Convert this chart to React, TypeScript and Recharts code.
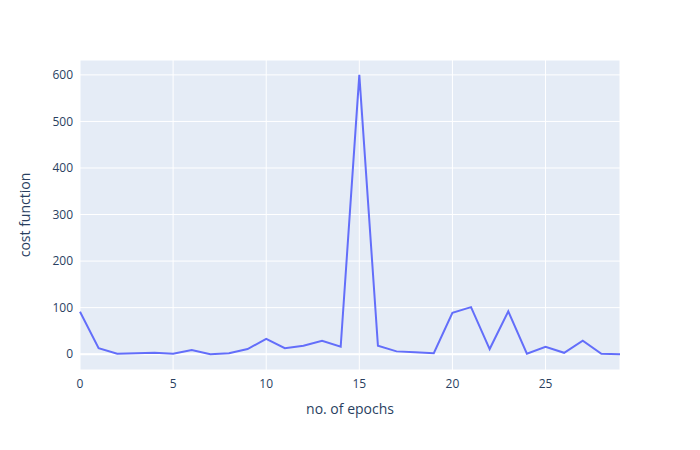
import React from 'react';
import { LineChart, Line, XAxis, YAxis, CartesianGrid, ReferenceLine, Label } from 'recharts';

// epoch index and cost value
const epochs = [0, 1, 2, 3, 4, 5, 6, 7, 8, 9, 10, 11, 12, 13, 14, 15, 16, 17, 18, 19, 20, 21, 22, 23, 24, 25, 26, 27, 28, 29];
const cost = [91, 13, 1, 2, 3, 1, 9, 0, 2, 11, 33, 13, 18, 29, 16, 600, 18, 6, 4, 2, 89, 101, 11, 92, 1, 16, 3, 29, 1, 0];
const xTicks = [0, 5, 10, 15, 20, 25];
const yTicks = [0, 100, 200, 300, 400, 500, 600];

const FONT = '"Open Sans", verdana, arial, sans-serif';
const INK = '#2a3f5f';

const data = epochs.map((e, i) => ({ epoch: e, cost: cost[i] }));

// rotated y title, centred on the plot height
const YTitle = (props: any) => {
  const { viewBox } = props;
  const cx = viewBox.x + 25;
  const cy = viewBox.y + viewBox.height / 2;
  return (
    <text
      x={cx}
      y={cy}
      dy="0.35em"
      textAnchor="middle"
      transform={`rotate(-90, ${cx}, ${cy})`}
      fill={INK}
      fontSize={14}
      fontFamily={FONT}
    >
      cost function
    </text>
  );
};

const App: React.FC = () => {
  return (
    <div style={{ position: 'absolute', left: 0, top: 0, width: 700, height: 450, background: '#fff' }}>
      <LineChart width={700} height={450} data={data} margin={{ top: 60, right: 80, left: 0, bottom: 0 }}>
        <CartesianGrid fill="#E5ECF6" stroke="#ffffff" strokeWidth={1} />
        <XAxis
          dataKey="epoch"
          type="number"
          domain={[0, 29]}
          ticks={xTicks}
          height={80}
          axisLine={false}
          tickLine={false}
          tickSize={0}
          tickMargin={9}
          tick={{ fill: INK, fontSize: 12, fontFamily: FONT }}
        >
          <Label
            value="no. of epochs"
            position="insideBottom"
            offset={36}
            fill={INK}
            fontSize={14}
            fontFamily={FONT}
          />
        </XAxis>
        <YAxis
          type="number"
          domain={[-34, 632]}
          ticks={yTicks}
          width={80}
          axisLine={false}
          tickLine={false}
          tickSize={0}
          tickMargin={7}
          tick={{ fill: INK, fontSize: 12, fontFamily: FONT }}
        >
          <Label content={<YTitle />} />
        </YAxis>
        <ReferenceLine y={0} stroke="#ffffff" strokeWidth={2} />
        <Line
          type="linear"
          dataKey="cost"
          stroke="#636efa"
          strokeWidth={2}
          dot={false}
          isAnimationActive={false}
        />
      </LineChart>
    </div>
  );
};

export default App;
